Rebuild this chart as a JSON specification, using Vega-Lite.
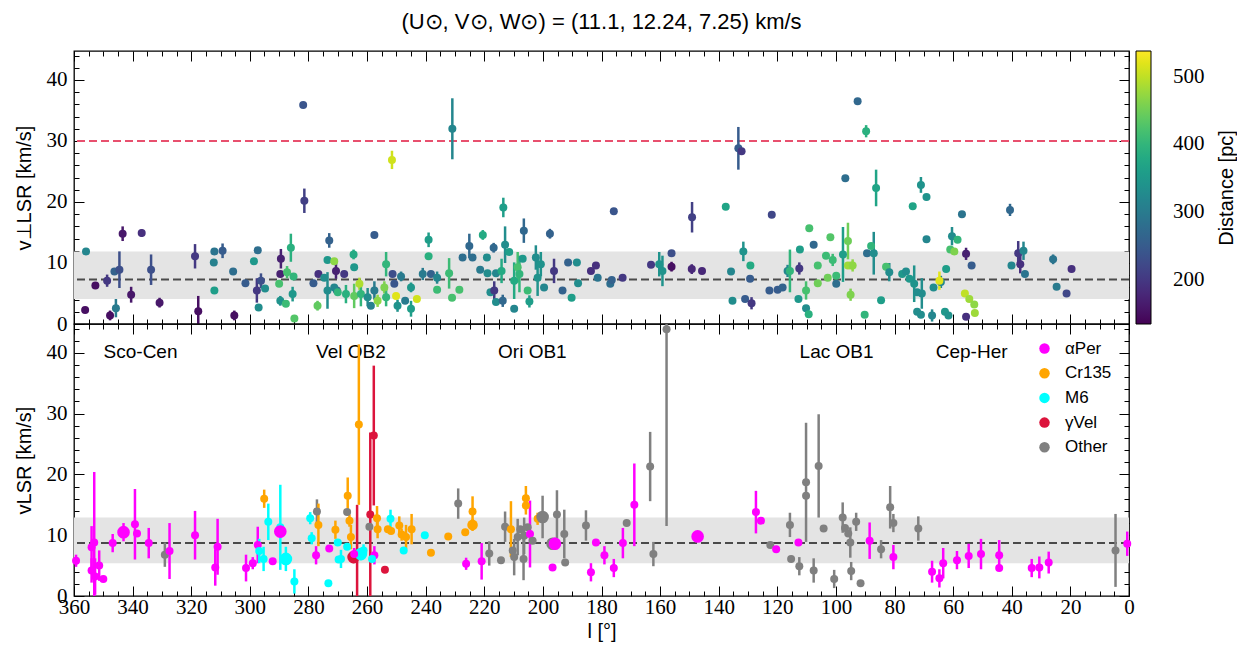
{
  "$schema": "https://vega.github.io/schema/vega-lite/v6.json",
  "padding": {"left": 13, "top": 9, "right": 0, "bottom": 0},
  "background": "white",
  "bounds": "flush",
  "datasets": {
    "top": [
      {"l":355.9,"v":11.9,"e":0.5,"d":320},{"l":356.2,"v":2.3,"e":0.4,"d":150},{"l":352.7,"v":6.3,"e":0.5,"d":150},{"l":348.7,"v":7.1,"e":1.0,"d":200},{"l":347.7,"v":1.4,"e":0.8,"d":150},{"l":346.2,"v":8.6,"e":0.5,"d":260},{"l":345.7,"v":2.6,"e":1.5,"d":300},{"l":344.5,"v":8.9,"e":3.0,"d":230},{"l":343.4,"v":14.8,"e":1.2,"d":160},{"l":340.5,"v":4.8,"e":1.3,"d":160},
      {"l":336.9,"v":14.9,"e":0.6,"d":190},{"l":333.7,"v":8.9,"e":2.5,"d":230},{"l":330.8,"v":3.5,"e":0.8,"d":160},{"l":318.7,"v":11.1,"e":2.0,"d":200},{"l":317.6,"v":2.1,"e":2.5,"d":150},{"l":312.3,"v":10.1,"e":0.5,"d":310},{"l":312.1,"v":11.9,"e":0.5,"d":290},{"l":312.1,"v":5.5,"e":0.5,"d":360},{"l":309.3,"v":12.0,"e":1.2,"d":250},{"l":305.7,"v":8.6,"e":0.5,"d":280},
      {"l":305.3,"v":1.4,"e":0.8,"d":150},{"l":301.5,"v":6.7,"e":0.5,"d":250},{"l":298.6,"v":10.3,"e":0.5,"d":350},{"l":297.3,"v":12.1,"e":0.5,"d":280},{"l":297.0,"v":2.7,"e":0.5,"d":330},{"l":297.6,"v":5.5,"e":2.0,"d":200},{"l":296.2,"v":7.1,"e":1.2,"d":230},{"l":294.8,"v":5.8,"e":0.5,"d":330},{"l":290.0,"v":6.6,"e":0.5,"d":420},{"l":289.6,"v":8.2,"e":0.5,"d":170},
      {"l":289.4,"v":10.7,"e":1.6,"d":170},{"l":289.6,"v":3.8,"e":0.8,"d":340},{"l":287.7,"v":3.3,"e":0.5,"d":410},{"l":287.3,"v":8.5,"e":1.0,"d":420},{"l":286.0,"v":12.5,"e":2.3,"d":390},{"l":285.4,"v":4.9,"e":1.2,"d":350},{"l":285.1,"v":7.8,"e":0.5,"d":400},{"l":284.8,"v":0.9,"e":0.5,"d":430},{"l":281.8,"v":35.9,"e":0.5,"d":240},{"l":281.4,"v":20.2,"e":2.0,"d":210},
      {"l":278.3,"v":6.7,"e":0.5,"d":250},{"l":276.6,"v":8.2,"e":0.5,"d":190},{"l":276.9,"v":3.0,"e":0.8,"d":440},{"l":273.5,"v":10.5,"e":0.5,"d":350},{"l":272.9,"v":13.7,"e":1.2,"d":260},{"l":273.5,"v":5.5,"e":3.0,"d":330},{"l":274.6,"v":7.6,"e":0.5,"d":330},{"l":270.6,"v":8.7,"e":1.3,"d":170},{"l":271.2,"v":10.3,"e":0.5,"d":470},{"l":270.3,"v":5.5,"e":0.5,"d":260},
      {"l":257.5,"v":14.6,"e":0.5,"d":250},{"l":251.5,"v":26.9,"e":1.5,"d":510},{"l":230.9,"v":32.0,"e":5.0,"d":320},{"l":213.5,"v":19.1,"e":1.6,"d":360},{"l":206.5,"v":15.3,"e":2.0,"d":270},{"l":197.6,"v":14.8,"e":0.8,"d":260},{"l":220.5,"v":14.6,"e":0.8,"d":380},{"l":239.0,"v":13.8,"e":1.2,"d":360},{"l":239.0,"v":11.1,"e":0.5,"d":390},{"l":264.6,"v":11.4,"e":0.8,"d":380},
      {"l":253.5,"v":9.8,"e":2.0,"d":400},{"l":264.4,"v":9.3,"e":0.5,"d":350},{"l":267.8,"v":8.2,"e":0.5,"d":200},{"l":251.3,"v":8.2,"e":0.5,"d":230},{"l":248.4,"v":7.8,"e":0.8,"d":300},{"l":241.0,"v":8.2,"e":1.0,"d":300},{"l":238.2,"v":8.2,"e":0.5,"d":260},{"l":236.1,"v":7.6,"e":1.0,"d":320},{"l":232.0,"v":8.3,"e":2.5,"d":410},{"l":228.5,"v":5.6,"e":0.5,"d":420},
      {"l":231.0,"v":4.3,"e":0.5,"d":420},{"l":236.1,"v":5.6,"e":0.5,"d":410},{"l":227.4,"v":10.9,"e":0.5,"d":280},{"l":225.1,"v":12.8,"e":2.0,"d":270},{"l":224.0,"v":10.9,"e":0.5,"d":280},{"l":221.4,"v":8.9,"e":0.5,"d":300},{"l":219.1,"v":10.9,"e":0.5,"d":330},{"l":216.8,"v":12.5,"e":0.8,"d":270},{"l":218.9,"v":8.3,"e":0.5,"d":330},{"l":216.0,"v":8.3,"e":0.5,"d":320},
      {"l":214.1,"v":8.7,"e":2.0,"d":380},{"l":212.9,"v":13.0,"e":3.0,"d":330},{"l":211.5,"v":11.8,"e":0.5,"d":360},{"l":217.9,"v":5.2,"e":0.5,"d":330},{"l":216.6,"v":5.5,"e":1.5,"d":200},{"l":216.0,"v":3.6,"e":0.5,"d":330},{"l":213.7,"v":3.8,"e":1.0,"d":270},{"l":209.8,"v":2.5,"e":0.5,"d":320},{"l":209.8,"v":7.1,"e":3.0,"d":380},{"l":208.6,"v":9.3,"e":2.5,"d":420},
      {"l":206.9,"v":10.7,"e":0.5,"d":350},{"l":208.0,"v":8.2,"e":3.0,"d":400},{"l":204.6,"v":3.7,"e":1.0,"d":360},{"l":205.2,"v":5.5,"e":0.5,"d":410},{"l":202.4,"v":10.9,"e":2.0,"d":330},{"l":201.8,"v":7.6,"e":3.0,"d":340},{"l":200.7,"v":9.8,"e":2.0,"d":340},{"l":199.6,"v":6.0,"e":0.5,"d":320},{"l":196.2,"v":8.7,"e":2.0,"d":200},{"l":193.3,"v":5.5,"e":0.5,"d":260},
      {"l":191.4,"v":10.1,"e":0.5,"d":260},{"l":190.2,"v":4.3,"e":0.5,"d":360},{"l":188.4,"v":10.1,"e":0.5,"d":330},{"l":188.0,"v":6.7,"e":0.5,"d":330},{"l":183.6,"v":8.7,"e":0.5,"d":190},{"l":181.9,"v":9.6,"e":0.5,"d":190},{"l":181.3,"v":7.6,"e":0.5,"d":290},{"l":271.2,"v":6.0,"e":0.5,"d":320},{"l":270.0,"v":5.2,"e":0.5,"d":400},{"l":267.2,"v":4.9,"e":1.5,"d":390},
      {"l":264.4,"v":4.6,"e":2.0,"d":440},{"l":262.6,"v":6.6,"e":1.0,"d":490},{"l":262.1,"v":4.9,"e":2.0,"d":400},{"l":259.8,"v":4.4,"e":1.5,"d":330},{"l":258.7,"v":3.0,"e":0.5,"d":310},{"l":257.5,"v":5.5,"e":1.5,"d":300},{"l":256.4,"v":3.8,"e":1.0,"d":470},{"l":254.1,"v":6.0,"e":1.0,"d":460},{"l":253.5,"v":4.4,"e":1.5,"d":400},{"l":250.7,"v":6.6,"e":0.5,"d":240},
      {"l":250.1,"v":4.6,"e":0.5,"d":520},{"l":249.6,"v":3.0,"e":1.0,"d":340},{"l":247.0,"v":3.8,"e":0.5,"d":300},{"l":245.0,"v":6.0,"e":0.8,"d":350},{"l":245.0,"v":2.5,"e":1.3,"d":360},{"l":243.0,"v":4.1,"e":0.5,"d":510},
      {"l":177.0,"v":6.6,"e":0.5,"d":280},{"l":176.5,"v":7.2,"e":0.5,"d":260},{"l":175.8,"v":18.5,"e":0.5,"d":240},{"l":172.8,"v":7.6,"e":0.5,"d":200},{"l":163.1,"v":9.7,"e":0.5,"d":200},{"l":160.3,"v":9.8,"e":2.0,"d":340},{"l":159.2,"v":8.7,"e":2.5,"d":340},{"l":156.1,"v":11.6,"e":0.5,"d":230},{"l":156.1,"v":9.4,"e":0.8,"d":150},{"l":149.1,"v":17.5,"e":2.5,"d":210},
      {"l":149.2,"v":9.0,"e":0.8,"d":180},{"l":145.7,"v":8.7,"e":0.5,"d":180},{"l":137.6,"v":19.2,"e":0.5,"d":370},{"l":135.8,"v":8.6,"e":0.5,"d":320},{"l":135.3,"v":3.8,"e":0.5,"d":330},{"l":133.3,"v":28.8,"e":3.5,"d":250},{"l":132.2,"v":28.3,"e":0.5,"d":200},{"l":131.6,"v":11.9,"e":1.6,"d":340},{"l":129.2,"v":9.6,"e":0.5,"d":380},{"l":129.3,"v":7.4,"e":0.5,"d":250},
      {"l":131.0,"v":4.1,"e":0.5,"d":250},{"l":128.8,"v":3.4,"e":1.0,"d":200},{"l":121.9,"v":17.9,"e":0.5,"d":220},{"l":122.7,"v":5.5,"e":0.5,"d":250},{"l":119.9,"v":5.6,"e":0.5,"d":250},{"l":118.2,"v":6.0,"e":0.5,"d":260},{"l":116.5,"v":8.7,"e":1.0,"d":320},{"l":115.7,"v":8.7,"e":3.5,"d":400},{"l":112.5,"v":9.1,"e":1.0,"d":200},{"l":112.3,"v":12.2,"e":0.5,"d":360},
      {"l":112.8,"v":4.1,"e":0.5,"d":350},{"l":110.2,"v":5.5,"e":1.5,"d":420},{"l":110.2,"v":2.6,"e":0.5,"d":330},{"l":109.3,"v":1.6,"e":0.5,"d":390},{"l":109.1,"v":15.7,"e":0.5,"d":420},{"l":107.6,"v":13.0,"e":0.5,"d":270},{"l":106.2,"v":9.6,"e":0.5,"d":420},{"l":106.2,"v":6.7,"e":0.5,"d":450},{"l":103.4,"v":11.2,"e":0.5,"d":410},{"l":102.8,"v":7.6,"e":0.5,"d":450},
      {"l":101.9,"v":14.2,"e":0.5,"d":430},{"l":101.1,"v":10.5,"e":1.0,"d":410},{"l":99.9,"v":6.6,"e":0.5,"d":280},{"l":99.9,"v":7.9,"e":0.5,"d":410},{"l":97.6,"v":11.4,"e":4.5,"d":360},{"l":96.8,"v":23.9,"e":0.5,"d":280},{"l":95.9,"v":13.6,"e":3.0,"d":450},{"l":95.9,"v":9.6,"e":0.5,"d":480},{"l":94.8,"v":9.6,"e":0.5,"d":480},{"l":95.0,"v":4.8,"e":1.0,"d":460},
      {"l":92.6,"v":36.5,"e":0.5,"d":270},{"l":89.7,"v":31.6,"e":1.0,"d":390},{"l":86.3,"v":22.3,"e":3.0,"d":370},{"l":89.4,"v":11.6,"e":0.5,"d":280},{"l":87.1,"v":11.6,"e":3.5,"d":330},{"l":88.0,"v":12.8,"e":0.5,"d":400},{"l":94.3,"v":9.6,"e":1.0,"d":470},{"l":90.2,"v":1.5,"e":0.5,"d":400},{"l":84.6,"v":3.9,"e":0.5,"d":360},{"l":82.9,"v":9.4,"e":0.5,"d":420},
      {"l":81.8,"v":8.5,"e":1.5,"d":330},{"l":77.4,"v":8.2,"e":0.5,"d":350},{"l":76.1,"v":8.6,"e":0.5,"d":330},{"l":73.8,"v":19.3,"e":0.5,"d":370},{"l":71.0,"v":22.8,"e":1.3,"d":340},{"l":69.1,"v":20.8,"e":0.5,"d":340},{"l":74.9,"v":7.4,"e":0.5,"d":350},{"l":73.3,"v":6.6,"e":3.0,"d":340},{"l":72.3,"v":5.2,"e":0.5,"d":330},{"l":70.7,"v":5.0,"e":2.5,"d":330},
      {"l":72.3,"v":2.0,"e":0.5,"d":330},{"l":71.0,"v":1.5,"e":0.5,"d":330},{"l":69.1,"v":13.9,"e":0.5,"d":320},{"l":67.2,"v":1.4,"e":1.0,"d":320},{"l":66.7,"v":6.0,"e":0.5,"d":330},{"l":64.2,"v":6.9,"e":1.0,"d":320},{"l":64.7,"v":7.1,"e":1.5,"d":520},{"l":62.4,"v":9.0,"e":0.5,"d":360},{"l":62.8,"v":2.0,"e":0.5,"d":350},{"l":61.6,"v":1.4,"e":0.5,"d":340},
      {"l":60.4,"v":14.4,"e":1.5,"d":330},{"l":58.5,"v":13.8,"e":0.5,"d":400},{"l":61.0,"v":12.2,"e":0.5,"d":420},{"l":59.6,"v":11.9,"e":0.5,"d":460},{"l":57.0,"v":18.0,"e":0.5,"d":290},{"l":55.6,"v":11.5,"e":1.0,"d":170},{"l":53.7,"v":9.6,"e":0.5,"d":250},{"l":55.6,"v":1.2,"e":0.5,"d":190},{"l":56.0,"v":5.0,"e":0.5,"d":500},{"l":54.5,"v":4.1,"e":0.5,"d":480},
      {"l":52.8,"v":3.2,"e":0.5,"d":470},{"l":52.6,"v":1.8,"e":0.5,"d":480},{"l":40.6,"v":18.7,"e":1.0,"d":270},{"l":40.1,"v":9.6,"e":0.5,"d":320},{"l":37.8,"v":11.6,"e":2.0,"d":200},{"l":37.1,"v":9.8,"e":1.5,"d":190},{"l":36.0,"v":12.0,"e":1.5,"d":320},{"l":35.5,"v":8.2,"e":0.5,"d":290},{"l":25.9,"v":10.6,"e":0.8,"d":290},{"l":24.7,"v":6.1,"e":0.5,"d":300},
      {"l":21.3,"v":5.0,"e":0.5,"d":220},{"l":19.6,"v":9.0,"e":0.5,"d":190}
    ],
    "bottom": [
      {"l":359.3,"v":5.8,"e":1.0,"g":"αPer","n":1},{"l":354.0,"v":8.0,"e":3.5,"g":"αPer","n":1},{"l":353.1,"v":8.8,"e":11.6,"g":"αPer","n":1},{"l":354.0,"v":4.2,"e":2.0,"g":"αPer","n":1},{"l":352.8,"v":3.2,"e":3.0,"g":"αPer","n":1},{"l":351.4,"v":5.0,"e":2.5,"g":"αPer","n":1},{"l":350.0,"v":2.8,"e":0.5,"g":"αPer","n":1},{"l":346.8,"v":8.7,"e":1.5,"g":"αPer","n":1},{"l":343.1,"v":10.5,"e":1.5,"g":"αPer","n":5},{"l":339.2,"v":11.8,"e":5.8,"g":"αPer","n":1},
      {"l":338.5,"v":10.3,"e":0.5,"g":"αPer","n":1},{"l":334.5,"v":8.7,"e":2.5,"g":"αPer","n":1},{"l":329.0,"v":6.8,"e":2.0,"g":"Other","n":1},{"l":327.4,"v":7.4,"e":4.6,"g":"αPer","n":1},{"l":318.7,"v":10.0,"e":4.0,"g":"αPer","n":1},{"l":311.0,"v":8.1,"e":4.6,"g":"αPer","n":1},{"l":311.8,"v":4.7,"e":3.0,"g":"αPer","n":1},{"l":301.3,"v":4.6,"e":2.2,"g":"αPer","n":1},{"l":299.0,"v":5.4,"e":1.0,"g":"αPer","n":1},{"l":297.3,"v":8.4,"e":3.0,"g":"αPer","n":1},
      {"l":296.8,"v":7.4,"e":2.0,"g":"M6","n":1},{"l":295.3,"v":6.1,"e":2.0,"g":"M6","n":1},{"l":295.1,"v":16.0,"e":1.5,"g":"Cr135","n":1},{"l":293.7,"v":12.2,"e":3.0,"g":"M6","n":1},{"l":292.2,"v":5.7,"e":0.5,"g":"αPer","n":1},{"l":289.6,"v":11.3,"e":7.0,"g":"M6","n":1},{"l":289.6,"v":10.6,"e":1.0,"g":"αPer","n":5},{"l":287.7,"v":6.1,"e":2.0,"g":"M6","n":5},{"l":284.8,"v":2.4,"e":2.0,"g":"M6","n":1},{"l":279.4,"v":12.8,"e":1.0,"g":"M6","n":1},
      {"l":278.9,"v":9.5,"e":1.0,"g":"M6","n":1},{"l":277.1,"v":13.9,"e":2.0,"g":"Other","n":1},{"l":276.6,"v":11.7,"e":3.5,"g":"Cr135","n":1},{"l":277.4,"v":6.7,"e":1.5,"g":"αPer","n":1},{"l":273.2,"v":2.1,"e":0.5,"g":"M6","n":1},{"l":272.9,"v":7.8,"e":0.5,"g":"αPer","n":1},{"l":270.8,"v":10.9,"e":1.5,"g":"Cr135","n":1},{"l":270.0,"v":8.8,"e":0.5,"g":"M6","n":1},{"l":269.7,"v":6.0,"e":0.5,"g":"M6","n":1},{"l":268.9,"v":6.1,"e":1.5,"g":"M6","n":1},
      {"l":266.8,"v":8.1,"e":0.5,"g":"M6","n":1},{"l":266.6,"v":16.5,"e":3.0,"g":"Cr135","n":1},{"l":266.8,"v":13.8,"e":0.5,"g":"Other","n":1},{"l":266.0,"v":12.4,"e":1.0,"g":"Cr135","n":1},{"l":265.5,"v":9.7,"e":2.0,"g":"Cr135","n":1},{"l":264.6,"v":6.4,"e":1.0,"g":"γVel","n":5},{"l":263.4,"v":7.0,"e":8.0,"g":"γVel","n":1},{"l":262.8,"v":28.2,"e":13.2,"g":"Cr135","n":1},{"l":262.1,"v":6.9,"e":1.0,"g":"M6","n":5},{"l":261.2,"v":7.5,"e":1.0,"g":"M6","n":1},
      {"l":264.4,"v":6.9,"e":1.0,"g":"αPer","n":1},{"l":259.2,"v":11.4,"e":0.5,"g":"Other","n":1},{"l":258.9,"v":13.4,"e":13.5,"g":"γVel","n":1},{"l":257.7,"v":26.4,"e":11.5,"g":"γVel","n":1},{"l":257.5,"v":6.7,"e":1.5,"g":"αPer","n":1},{"l":258.3,"v":6.1,"e":0.5,"g":"M6","n":1},{"l":256.6,"v":12.8,"e":2.0,"g":"Cr135","n":1},{"l":256.4,"v":11.0,"e":1.5,"g":"Cr135","n":1},{"l":253.9,"v":4.3,"e":0.5,"g":"γVel","n":1},{"l":252.9,"v":11.0,"e":0.5,"g":"Cr135","n":1},
      {"l":252.0,"v":12.7,"e":1.5,"g":"M6","n":1},{"l":251.8,"v":10.7,"e":0.5,"g":"Cr135","n":1},{"l":249.0,"v":11.6,"e":1.5,"g":"Cr135","n":1},{"l":248.2,"v":10.1,"e":1.0,"g":"Cr135","n":1},{"l":247.5,"v":7.5,"e":0.5,"g":"M6","n":1},{"l":246.7,"v":9.7,"e":2.0,"g":"Cr135","n":1},{"l":244.8,"v":11.0,"e":2.5,"g":"Cr135","n":1},{"l":240.3,"v":10.0,"e":0.5,"g":"M6","n":1},{"l":238.2,"v":7.1,"e":0.5,"g":"Cr135","n":1},{"l":232.3,"v":9.8,"e":0.5,"g":"Cr135","n":1},
      {"l":228.9,"v":15.2,"e":2.5,"g":"Other","n":1},{"l":226.5,"v":10.5,"e":0.5,"g":"Cr135","n":1},{"l":224.0,"v":13.9,"e":2.5,"g":"Cr135","n":1},{"l":224.0,"v":11.7,"e":1.0,"g":"Cr135","n":3},{"l":226.2,"v":5.3,"e":1.0,"g":"αPer","n":1},{"l":220.9,"v":5.7,"e":3.0,"g":"αPer","n":1},{"l":218.3,"v":7.0,"e":2.0,"g":"Other","n":1},{"l":214.3,"v":5.9,"e":0.5,"g":"Other","n":1},{"l":212.9,"v":11.4,"e":2.5,"g":"Other","n":1},{"l":210.9,"v":11.0,"e":4.6,"g":"Cr135","n":1},
      {"l":210.3,"v":7.5,"e":0.5,"g":"Other","n":1},{"l":209.8,"v":6.4,"e":3.0,"g":"Other","n":1},{"l":208.6,"v":9.7,"e":3.0,"g":"Other","n":1},{"l":207.7,"v":11.0,"e":0.5,"g":"Other","n":1},{"l":206.6,"v":6.1,"e":3.5,"g":"Other","n":1},{"l":206.4,"v":9.9,"e":3.0,"g":"Other","n":1},{"l":205.8,"v":16.1,"e":2.0,"g":"Cr135","n":1},{"l":205.8,"v":14.9,"e":1.5,"g":"Cr135","n":1},{"l":205.2,"v":11.3,"e":0.5,"g":"Other","n":1},{"l":204.4,"v":10.2,"e":5.5,"g":"αPer","n":1},
      {"l":203.5,"v":9.1,"e":0.5,"g":"Other","n":1},{"l":201.8,"v":12.7,"e":1.0,"g":"Cr135","n":1},{"l":200.1,"v":13.0,"e":3.5,"g":"Other","n":5},{"l":196.7,"v":8.6,"e":0.5,"g":"Other","n":5},{"l":195.9,"v":8.6,"e":1.0,"g":"αPer","n":5},{"l":196.7,"v":4.7,"e":0.5,"g":"αPer","n":1},{"l":195.2,"v":13.4,"e":4.0,"g":"Other","n":1},{"l":192.7,"v":10.2,"e":4.0,"g":"Other","n":1},{"l":192.4,"v":5.5,"e":0.5,"g":"Other","n":1},{"l":185.3,"v":11.6,"e":2.5,"g":"Other","n":1},
      {"l":183.6,"v":3.9,"e":1.5,"g":"αPer","n":1},{"l":181.9,"v":8.8,"e":0.5,"g":"αPer","n":1},{"l":179.0,"v":6.7,"e":1.5,"g":"αPer","n":1},{"l":175.8,"v":4.6,"e":1.5,"g":"αPer","n":1},{"l":172.7,"v":8.7,"e":2.5,"g":"αPer","n":1},{"l":171.4,"v":12.0,"e":0.5,"g":"Other","n":1},{"l":168.8,"v":15.0,"e":6.8,"g":"αPer","n":1},{"l":163.4,"v":21.3,"e":5.7,"g":"Other","n":1},{"l":162.3,"v":6.9,"e":2.0,"g":"Other","n":1},{"l":157.8,"v":43.9,"e":32.4,"g":"Other","n":1},
      {"l":147.2,"v":9.8,"e":0.5,"g":"αPer","n":5},{"l":127.3,"v":13.8,"e":3.5,"g":"αPer","n":1},{"l":125.6,"v":12.4,"e":0.5,"g":"αPer","n":1},{"l":122.4,"v":8.4,"e":0.5,"g":"Other","n":1},{"l":120.4,"v":7.7,"e":0.5,"g":"αPer","n":1},{"l":115.7,"v":11.7,"e":2.0,"g":"Other","n":1},{"l":115.3,"v":6.1,"e":0.5,"g":"Other","n":1},{"l":112.8,"v":8.8,"e":0.5,"g":"αPer","n":1},{"l":112.5,"v":4.9,"e":1.5,"g":"Other","n":1},{"l":110.2,"v":18.7,"e":9.8,"g":"Other","n":1},
      {"l":110.2,"v":16.5,"e":0.5,"g":"Other","n":1},{"l":107.6,"v":4.2,"e":2.0,"g":"Other","n":1},{"l":105.9,"v":21.4,"e":8.5,"g":"Other","n":1},{"l":104.2,"v":11.1,"e":0.5,"g":"Other","n":1},{"l":100.6,"v":2.8,"e":1.5,"g":"Other","n":1},{"l":97.7,"v":12.9,"e":2.5,"g":"Other","n":1},{"l":96.9,"v":11.2,"e":0.5,"g":"Other","n":1},{"l":95.8,"v":10.3,"e":0.5,"g":"Other","n":1},{"l":95.1,"v":8.8,"e":2.5,"g":"Other","n":1},{"l":93.1,"v":12.2,"e":1.5,"g":"Other","n":1},
      {"l":94.8,"v":4.1,"e":1.5,"g":"Other","n":1},{"l":91.6,"v":2.1,"e":0.5,"g":"Other","n":1},{"l":88.5,"v":9.1,"e":3.0,"g":"αPer","n":1},{"l":84.6,"v":7.7,"e":1.5,"g":"Other","n":1},{"l":81.5,"v":14.6,"e":3.5,"g":"Other","n":1},{"l":80.4,"v":12.0,"e":1.5,"g":"Other","n":1},{"l":80.4,"v":6.4,"e":2.0,"g":"αPer","n":1},{"l":71.9,"v":11.1,"e":2.0,"g":"Other","n":1},{"l":67.2,"v":4.0,"e":1.8,"g":"αPer","n":1},{"l":64.7,"v":2.9,"e":1.5,"g":"αPer","n":1},
      {"l":63.4,"v":5.4,"e":2.5,"g":"αPer","n":1},{"l":58.7,"v":5.9,"e":1.5,"g":"αPer","n":1},{"l":54.7,"v":6.6,"e":2.0,"g":"αPer","n":1},{"l":50.5,"v":6.9,"e":2.5,"g":"αPer","n":1},{"l":44.3,"v":6.7,"e":2.5,"g":"αPer","n":1},{"l":44.3,"v":4.6,"e":0.5,"g":"αPer","n":1},{"l":33.2,"v":4.6,"e":1.5,"g":"αPer","n":1},{"l":30.6,"v":4.7,"e":1.8,"g":"αPer","n":1},{"l":27.4,"v":5.5,"e":1.8,"g":"αPer","n":1},{"l":4.6,"v":7.5,"e":6.0,"g":"Other","n":1},
      {"l":0.6,"v":8.6,"e":2.0,"g":"αPer","n":1}
    ]
  },
  "spacing": 0,
  "resolve": {"scale": {"x": "independent", "y": "independent", "color": "independent", "fill": "independent", "size": "independent"}, "legend": {"color": "independent", "fill": "independent"}},
  "vconcat": [
    {
      "width": 1055,
      "height": 273,
      "title": {"text": "(U⊙, V⊙, W⊙) = (11.1, 12.24, 7.25) km/s", "font": "Liberation Sans", "fontSize": 22, "fontWeight": "normal", "color": "black", "anchor": "middle", "frame": "group", "offset": 11},
      "resolve": {"axis": {"x": "independent", "y": "independent"}},
      "layer": [
        {
          "data": {"values": [{"lo": 4.1, "hi": 11.9}]},
          "mark": {"type": "rect", "color": "#e4e4e4"},
          "encoding": {
            "y": {"field": "lo", "type": "quantitative", "scale": {"domain": [0, 44.75], "nice": false, "zero": false},
                  "axis": {"orient": "left", "title": "v⊥LSR [km/s]", "titlePadding": 12, "values": [0,2,4,6,8,10,12,14,16,18,20,22,24,26,28,30,32,34,36,38,40,42,44], "labelExpr": "datum.value % 10 === 0 ? datum.label : ''", "tickSize": {"condition": {"test": "datum.value % 10 === 0", "value": -10}, "value": -5}, "labelPadding": 17}},
            "y2": {"field": "hi"}
          }
        },
        {
          "data": {"values": [{"mean": 7.3}]},
          "mark": {"type": "rule", "color": "#4a4a4a", "strokeWidth": 2, "strokeDash": [8, 4]},
          "encoding": {
            "y": {"field": "mean", "type": "quantitative", "scale": {"domain": [0, 44.75], "nice": false, "zero": false},
                  "axis": {"orient": "right", "title": "Distance [pc]", "titleAngle": 270, "titleBaseline": "middle", "titleAlign": "center", "titlePadding": 97, "minExtent": 0, "maxExtent": 0, "labels": false, "values": [0,2,4,6,8,10,12,14,16,18,20,22,24,26,28,30,32,34,36,38,40,42,44], "tickSize": {"condition": {"test": "datum.value % 10 === 0", "value": -10}, "value": -5}}}
          }
        },
        {
          "data": {"values": [{"cut": 30}]},
          "mark": {"type": "rule", "color": "#e8506e", "strokeWidth": 2, "strokeDash": [8, 4]},
          "encoding": {
            "y": {"field": "cut", "type": "quantitative", "scale": {"domain": [0, 44.75], "nice": false, "zero": false}, "axis": null}
          }
        },
        {
          "data": {"name": "top"},
          "mark": {"type": "errorbar", "ticks": false, "thickness": 2.5, "clip": true},
          "encoding": {
            "x": {"field": "l", "type": "quantitative", "scale": {"domain": [0, 360], "reverse": true, "nice": false, "zero": false},
                  "axis": {"orient": "bottom", "title": null, "labels": false, "values": [0,5,10,15,20,25,30,35,40,45,50,55,60,65,70,75,80,85,90,95,100,105,110,115,120,125,130,135,140,145,150,155,160,165,170,175,180,185,190,195,200,205,210,215,220,225,230,235,240,245,250,255,260,265,270,275,280,285,290,295,300,305,310,315,320,325,330,335,340,345,350,355,360], "tickSize": {"condition": {"test": "datum.value % 20 === 0", "value": -10}, "value": -5}}},
            "y": {"field": "v", "type": "quantitative", "scale": {"domain": [0, 44.75], "nice": false, "zero": false}, "axis": null},
            "yError": {"field": "e"},
            "color": {"field": "d", "type": "quantitative", "scale": {"scheme": "viridis", "domain": [134.99, 538]}, "legend": null}
          }
        },
        {
          "data": {"name": "top"},
          "mark": {"type": "circle", "size": 64, "opacity": 1},
          "encoding": {
            "x": {"field": "l", "type": "quantitative", "scale": {"domain": [0, 360], "reverse": true, "nice": false, "zero": false},
                  "axis": {"orient": "top", "title": null, "labels": false, "values": [0,5,10,15,20,25,30,35,40,45,50,55,60,65,70,75,80,85,90,95,100,105,110,115,120,125,130,135,140,145,150,155,160,165,170,175,180,185,190,195,200,205,210,215,220,225,230,235,240,245,250,255,260,265,270,275,280,285,290,295,300,305,310,315,320,325,330,335,340,345,350,355,360], "tickSize": {"condition": {"test": "datum.value % 20 === 0", "value": -10}, "value": -5}}},
            "y": {"field": "v", "type": "quantitative", "scale": {"domain": [0, 44.75], "nice": false, "zero": false}, "axis": null},
            "fill": {"field": "d", "type": "quantitative", "scale": {"scheme": "viridis", "domain": [135, 538]},
                      "legend": {"type": "gradient", "orient": "none", "legendX": 1062, "legendY": 0, "direction": "vertical", "gradientLength": 273, "gradientThickness": 15, "gradientStrokeColor": "black", "gradientStrokeWidth": 1, "values": [200, 300, 400, 500], "labelFont": "Liberation Serif", "labelFontSize": 21, "labelColor": "black", "labelOffset": 22, "padding": 0, "title": null}}
          }
        }
      ]
    },
    {
      "width": 1055,
      "height": 272,
      "resolve": {"axis": {"x": "independent", "y": "independent"}},
      "layer": [
        {
          "data": {"values": [{"lo": 5.4, "hi": 12.9}]},
          "mark": {"type": "rect", "color": "#e4e4e4"},
          "encoding": {
            "y": {"field": "lo", "type": "quantitative", "scale": {"domain": [0, 44.75], "nice": false, "zero": false},
                  "axis": {"orient": "left", "title": "vLSR [km/s]", "titlePadding": 12, "values": [0,2,4,6,8,10,12,14,16,18,20,22,24,26,28,30,32,34,36,38,40,42,44], "labelExpr": "datum.value % 10 === 0 ? datum.label : ''", "tickSize": {"condition": {"test": "datum.value % 10 === 0", "value": -10}, "value": -5}, "labelPadding": 17}},
            "y2": {"field": "hi"}
          }
        },
        {
          "data": {"values": [{"mean": 8.7}]},
          "mark": {"type": "rule", "color": "#4a4a4a", "strokeWidth": 2, "strokeDash": [8, 4]},
          "encoding": {
            "y": {"field": "mean", "type": "quantitative", "scale": {"domain": [0, 44.75], "nice": false, "zero": false},
                  "axis": {"orient": "right", "title": null, "labels": false, "values": [0,2,4,6,8,10,12,14,16,18,20,22,24,26,28,30,32,34,36,38,40,42,44], "tickSize": {"condition": {"test": "datum.value % 10 === 0", "value": -10}, "value": -5}}}
          }
        },
        {
          "data": {"values": [{"name": "Sco-Cen", "l": 337.3, "v": 40.1}, {"name": "Vel OB2", "l": 265.5, "v": 40.1}, {"name": "Ori OB1", "l": 203.6, "v": 40.1}, {"name": "Lac OB1", "l": 99.8, "v": 40.1}, {"name": "Cep-Her", "l": 53.7, "v": 40.1}]},
          "mark": {"type": "text", "font": "Liberation Sans", "fontSize": 19, "color": "black", "align": "center", "baseline": "middle"},
          "encoding": {
            "x": {"field": "l", "type": "quantitative", "scale": {"domain": [0, 360], "reverse": true, "nice": false, "zero": false},
                  "axis": {"orient": "top", "title": null, "labels": false, "values": [0,5,10,15,20,25,30,35,40,45,50,55,60,65,70,75,80,85,90,95,100,105,110,115,120,125,130,135,140,145,150,155,160,165,170,175,180,185,190,195,200,205,210,215,220,225,230,235,240,245,250,255,260,265,270,275,280,285,290,295,300,305,310,315,320,325,330,335,340,345,350,355,360], "tickSize": {"condition": {"test": "datum.value % 20 === 0", "value": -10}, "value": -5}}},
            "y": {"field": "v", "type": "quantitative", "scale": {"domain": [0, 44.75], "nice": false, "zero": false}, "axis": null},
            "text": {"field": "name"}
          }
        },
        {
          "data": {"name": "bottom"},
          "mark": {"type": "errorbar", "ticks": false, "thickness": 2.5, "clip": true},
          "encoding": {
            "x": {"field": "l", "type": "quantitative", "scale": {"domain": [0, 360], "reverse": true, "nice": false, "zero": false},
                  "axis": {"orient": "bottom", "title": "l [°]", "titlePadding": -1, "values": [0,5,10,15,20,25,30,35,40,45,50,55,60,65,70,75,80,85,90,95,100,105,110,115,120,125,130,135,140,145,150,155,160,165,170,175,180,185,190,195,200,205,210,215,220,225,230,235,240,245,250,255,260,265,270,275,280,285,290,295,300,305,310,315,320,325,330,335,340,345,350,355,360], "labelExpr": "datum.value % 20 === 0 ? datum.label : ''", "tickSize": {"condition": {"test": "datum.value % 20 === 0", "value": -10}, "value": -5}, "labelPadding": 10}},
            "y": {"field": "v", "type": "quantitative", "scale": {"domain": [0, 44.75], "nice": false, "zero": false}, "axis": null},
            "yError": {"field": "e"},
            "color": {"field": "g", "type": "nominal", "scale": {"domain": ["αPer", "Cr135", "M6", "γVel", "Other"], "range": ["#ff00ff", "#ffa500", "#00ffff", "#dc143c", "#808080"]}}
          }
        },
        {
          "data": {"name": "bottom"},
          "mark": {"type": "circle", "opacity": 1},
          "encoding": {
            "x": {"field": "l", "type": "quantitative", "scale": {"domain": [0, 360], "reverse": true, "nice": false, "zero": false}, "axis": null},
            "y": {"field": "v", "type": "quantitative", "scale": {"domain": [0, 44.75], "nice": false, "zero": false}, "axis": null},
            "size": {"field": "n", "type": "quantitative", "scale": {"domain": [1, 5], "range": [64, 160]}, "legend": null},
            "color": {"field": "g", "type": "nominal", "scale": {"domain": ["αPer", "Cr135", "M6", "γVel", "Other"], "range": ["#ff00ff", "#ffa500", "#00ffff", "#dc143c", "#808080"]},
                      "legend": {"orient": "none", "legendX": 962, "legendY": 16, "title": null, "symbolType": "circle", "symbolSize": 110, "symbolStrokeWidth": 0, "labelFont": "Liberation Sans", "labelFontSize": 17, "labelColor": "black", "labelOffset": 12, "rowPadding": 6.7, "padding": 0}}
          }
        }
      ]
    }
  ],
  "config": {
    "view": {"stroke": "black", "strokeWidth": 1.3},
    "axis": {"domain": false, "grid": false, "tickColor": "black", "tickWidth": 1, "labelFont": "Liberation Serif", "labelFontSize": 21, "labelColor": "black", "labelFlush": false, "labelOverlap": false, "titleFont": "Liberation Sans", "titleFontSize": 20, "titleFontWeight": "normal", "titleColor": "black"}
  }
}
